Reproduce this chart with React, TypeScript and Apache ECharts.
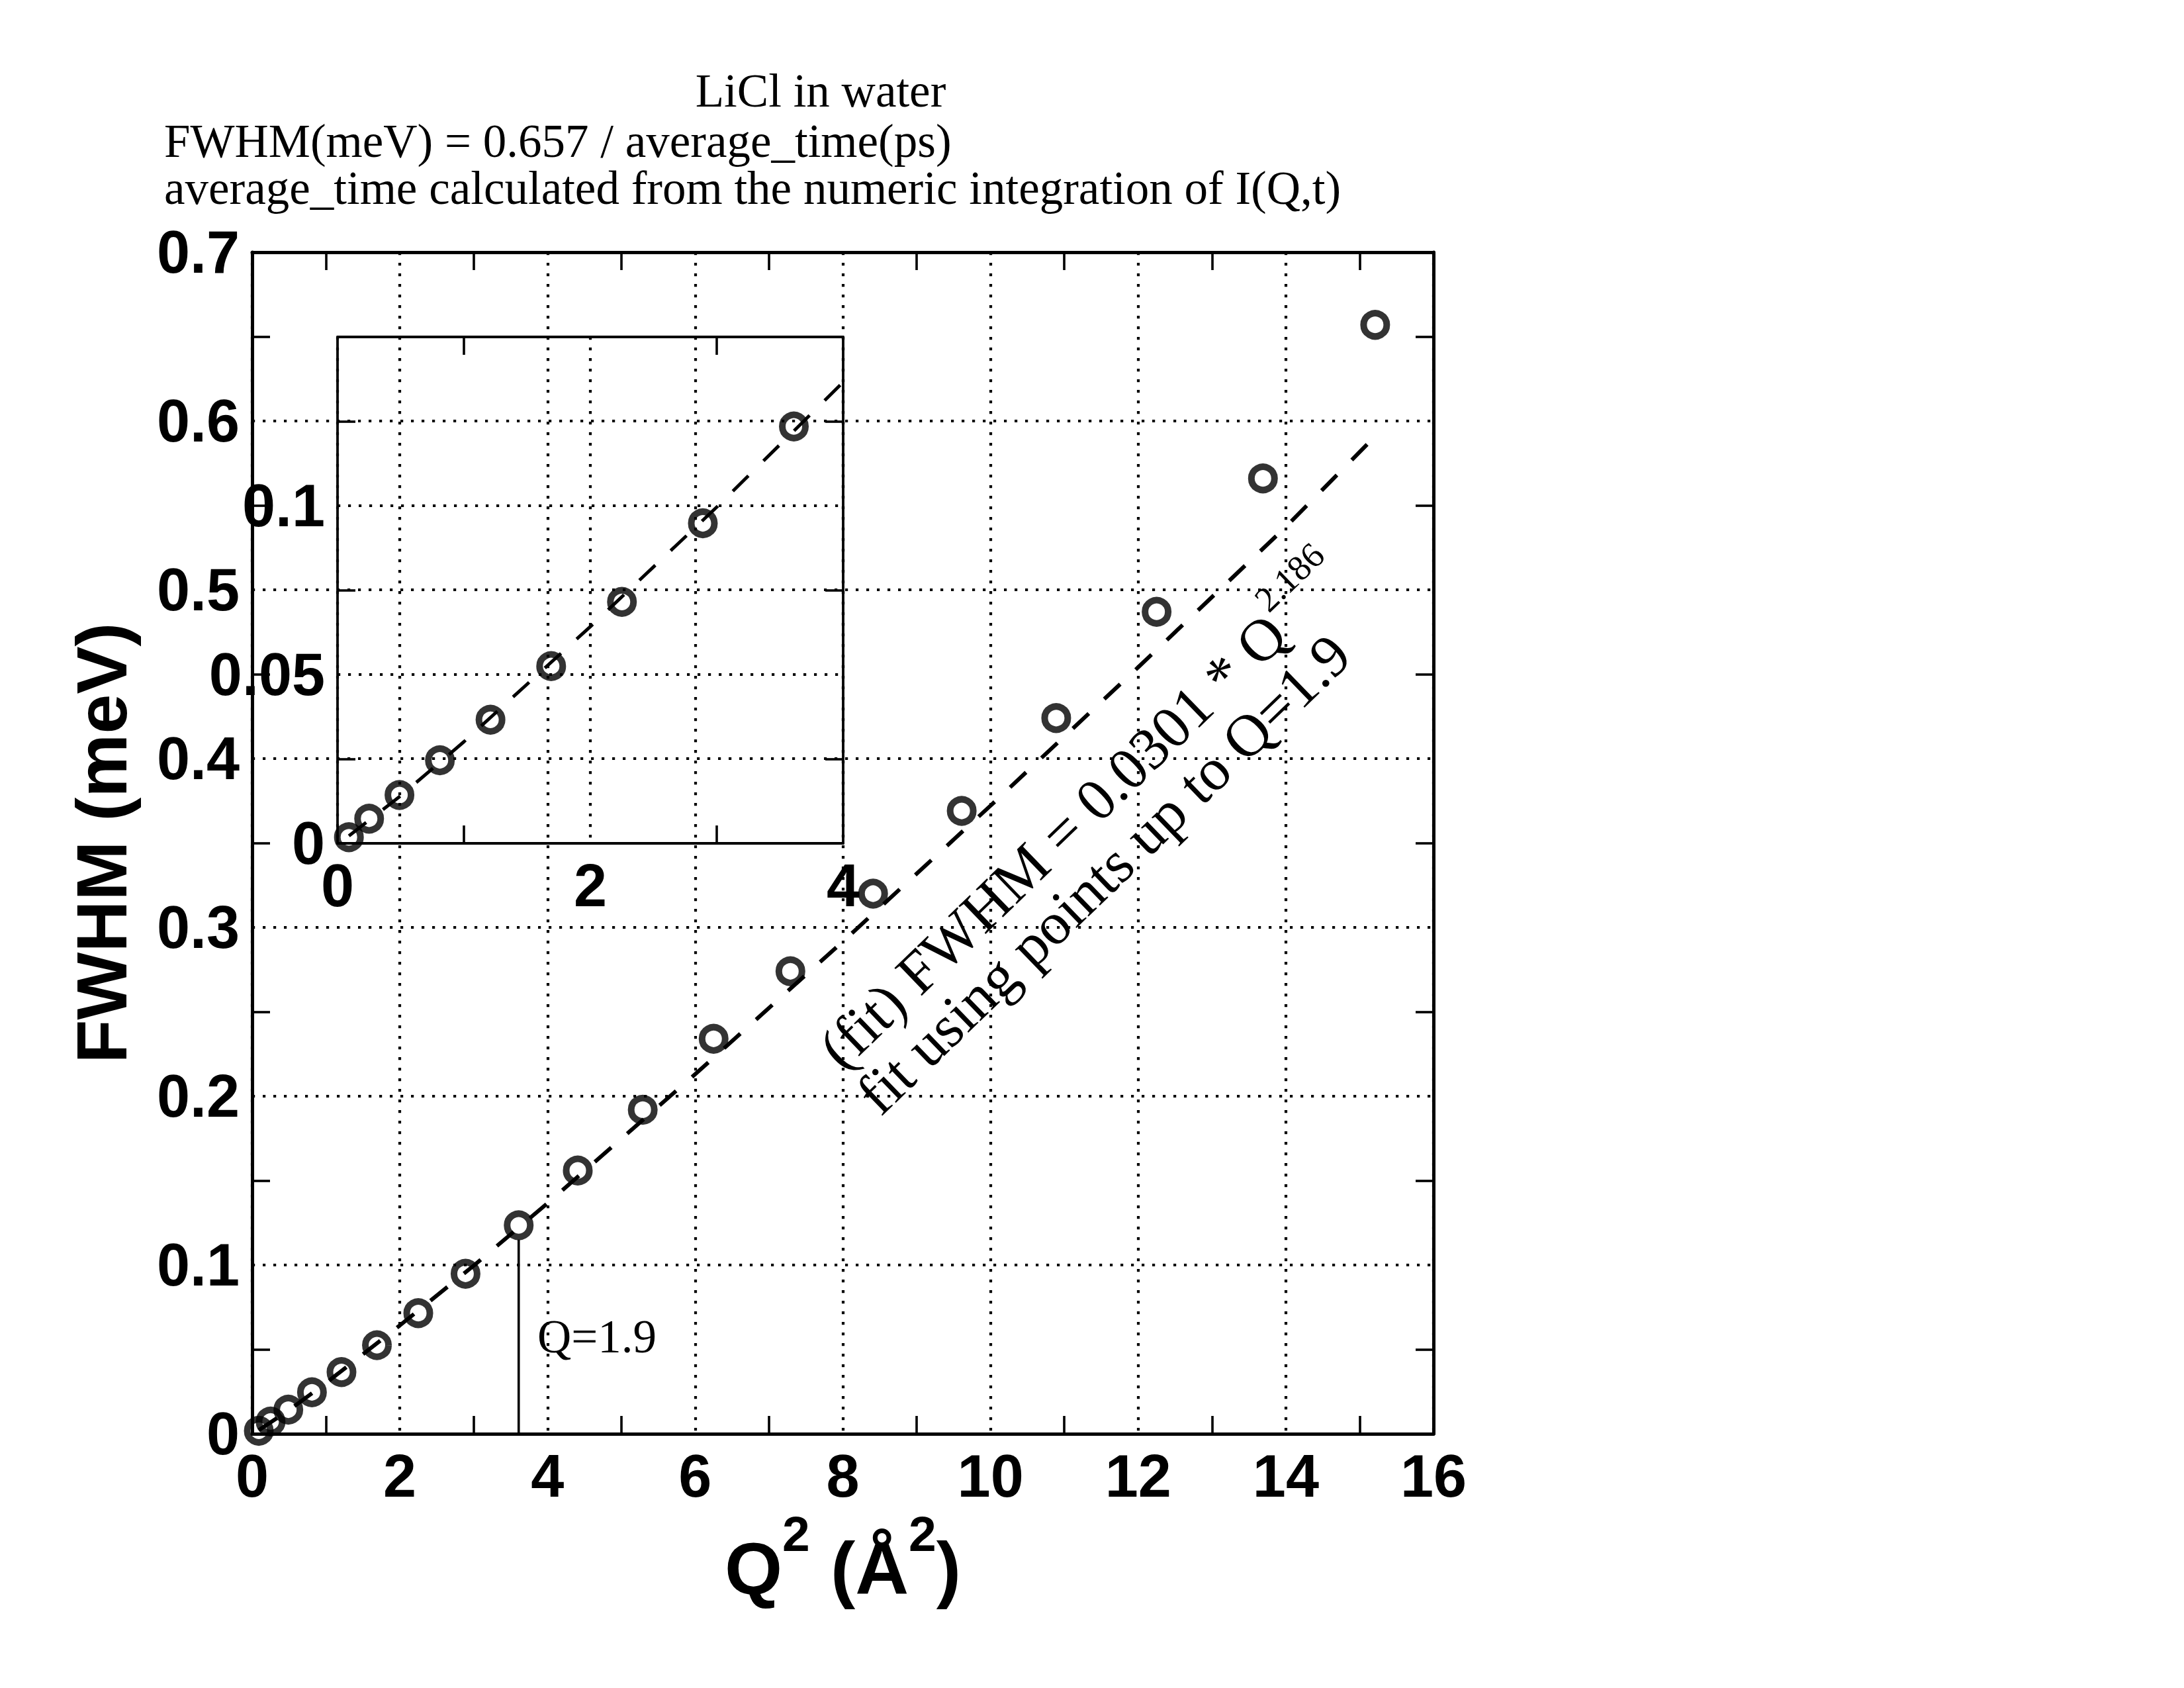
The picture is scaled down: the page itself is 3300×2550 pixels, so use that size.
import React, { useEffect, useRef } from "react";
import * as echarts from "echarts";

// ---------- data ----------
const q2Values = [0.09, 0.25, 0.49, 0.81, 1.21, 1.69, 2.25, 2.89, 3.61, 4.41, 5.29, 6.25, 7.29, 8.41, 9.61, 10.89, 12.25, 13.69, 15.21];
const fwhmValues = [0.0018, 0.0073, 0.0143, 0.0246, 0.0366, 0.0525, 0.0715, 0.0948, 0.1235, 0.156, 0.192, 0.234, 0.274, 0.32, 0.369, 0.424, 0.487, 0.566, 0.657];
const insetPointCount = 9;

const fitX = [0.09, 0.5, 1, 2, 3, 4, 6, 8, 10, 12, 14, 15.3];
const fitY = [0.0022, 0.0141, 0.0301, 0.0642, 0.0996, 0.1366, 0.213, 0.2916, 0.3721, 0.4541, 0.5373, 0.595];

const cutX = 3.61;
const cutTop = 0.115;

const mainXTicks = [0, 2, 4, 6, 8, 10, 12, 14, 16];
const mainYTicks = [0, 0.1, 0.2, 0.3, 0.4, 0.5, 0.6, 0.7];
const insetXTicks = [0, 2, 4];
const insetYTicks = [0, 0.05, 0.1, 0.15];

const titleLines = [
  "LiCl in water",
  "FWHM(meV) = 0.657 / average_time(ps)",
  "average_time calculated from the numeric integration of I(Q,t)",
];
const yAxisTitle = "FWHM (meV)";
const fitLine1 = "(fit) FWHM = 0.0301 * Q";
const fitExponent = "2.186";
const fitLine2 = "fit using points up to Q=1.9";
const cutLabel = "Q=1.9";

const SERIF = "'Liberation Serif', 'Times New Roman', serif";
const SANS = "'Liberation Sans', Arial, Helvetica, sans-serif";

function makeAxis(
  gridIndex: number,
  ticks: number[],
  position: string,
  showLabels: boolean,
  showGrid: boolean,
  frameWidth: number,
  extra: any = {}
) {
  return {
    type: "value",
    gridIndex,
    position,
    min: ticks[0],
    max: ticks[ticks.length - 1],
    interval: ticks[1] - ticks[0],
    axisLine: { show: true, onZero: false, lineStyle: { color: "#000", width: frameWidth } },
    axisTick: { show: false, inside: true },
    minorTick: { show: true, splitNumber: 2, length: 27, lineStyle: { color: "#000", width: 3.6 } },
    minorSplitLine: { show: false },
    axisLabel: {
      show: showLabels,
      fontSize: 90,
      fontWeight: "bold",
      fontFamily: SANS,
      color: "#000",
      margin: 19,
      lineHeight: 90,
    },
    splitLine: {
      show: showGrid,
      lineStyle: { color: "#000", width: 4.2, type: [4.2, 11.8] },
    },
    ...extra,
  };
}

const txt = (x: number, y: number, text: string, font: string, align: string, vAlign: string, extra: any = {}) => ({
  type: "text",
  style: {
    x, y, text, font, fill: "#000",
    textAlign: align, textVerticalAlign: vAlign, align, verticalAlign: vAlign,
    ...extra,
  },
});

export default function App() {
  const ref = useRef<HTMLDivElement>(null);

  useEffect(() => {
    if (!ref.current) return;
    const chart = echarts.init(ref.current, null, { renderer: "svg" });

    const fitFont = 90;
    const ctx = document.createElement("canvas").getContext("2d")!;
    ctx.font = `${fitFont}px ${SERIF}`;
    const line1Width = ctx.measureText(fitLine1).width;

    const mainPoints = q2Values.map((x, i) => [x, fwhmValues[i]]);
    const insetPoints = mainPoints.slice(0, insetPointCount);
    const fitPoints = fitX.map((x, i) => [x, fitY[i]]);
    const insetFit = fitPoints.filter((p) => p[0] <= insetXTicks[insetXTicks.length - 1]);

    const angle = (44 * Math.PI) / 180;
    const circleStyle = { color: "rgba(0,0,0,0)", borderColor: "#000", borderWidth: 10 };

    const option: any = {
      animation: false,
      backgroundColor: "#fff",
      grid: [
        { left: 381, top: 381, width: 1785, height: 1785, containLabel: false },
        { left: 510, top: 509, width: 764, height: 765, containLabel: false },
      ],
      xAxis: [
        makeAxis(0, mainXTicks, "bottom", true, true, 5, {
          name: "{b|Q}{s|2}{b| (Å}{s|2}{b|)}",
          nameLocation: "middle",
          nameGap: 113,
          nameTextStyle: {
            color: "#000",
            fontSize: 112,
            fontWeight: "bold",
            fontFamily: SANS,
            rich: {
              b: { fontSize: 112, fontWeight: "bold", fontFamily: SANS, lineHeight: 146, verticalAlign: "bottom", color: "#000" },
              s: { fontSize: 75, fontWeight: "bold", fontFamily: SANS, lineHeight: 146, verticalAlign: "top", color: "#000" },
            },
          },
        }),
        makeAxis(0, mainXTicks, "top", false, false, 5),
        makeAxis(1, insetXTicks, "bottom", true, true, 3.8),
        makeAxis(1, insetXTicks, "top", false, false, 3.8),
      ],
      yAxis: [
        makeAxis(0, mainYTicks, "left", true, true, 5, {
          name: yAxisTitle,
          nameLocation: "middle",
          nameRotate: 90,
          nameGap: 174,
          nameTextStyle: {
            color: "#000",
            fontSize: 108,
            fontWeight: "bold",
            fontFamily: SANS,
            lineHeight: 108,
          },
        }),
        makeAxis(0, mainYTicks, "right", false, false, 5),
        (() => {
          const a: any = makeAxis(1, insetYTicks, "left", true, true, 3.8);
          a.axisLabel.showMaxLabel = false;
          return a;
        })(),
        makeAxis(1, insetYTicks, "right", false, false, 3.8),
      ],
      series: [
        {
          type: "line",
          xAxisIndex: 0,
          yAxisIndex: 0,
          data: fitPoints,
          symbol: "none",
          silent: true,
          z: 2,
          lineStyle: { color: "#000", width: 6, type: [33, 32] },
        },
        {
          type: "line",
          xAxisIndex: 0,
          yAxisIndex: 0,
          data: [
            [cutX, 0],
            [cutX, cutTop],
          ],
          symbol: "none",
          silent: true,
          z: 2,
          lineStyle: { color: "#000", width: 3.6, type: "solid" },
        },
        {
          type: "scatter",
          xAxisIndex: 0,
          yAxisIndex: 0,
          data: mainPoints,
          symbol: "circle",
          symbolSize: 35,
          silent: true,
          z: 3,
          itemStyle: circleStyle,
        },
        {
          type: "line",
          xAxisIndex: 2,
          yAxisIndex: 2,
          data: insetFit,
          symbol: "none",
          silent: true,
          z: 2,
          lineStyle: { color: "#000", width: 5, type: [33, 32] },
        },
        {
          type: "scatter",
          xAxisIndex: 2,
          yAxisIndex: 2,
          data: insetPoints,
          symbol: "circle",
          symbolSize: 35,
          silent: true,
          z: 3,
          itemStyle: circleStyle,
        },
      ],
      graphic: [
        txt(1240, 137, titleLines[0], `71px ${SERIF}`, "center", "middle"),
        txt(248, 177.5, titleLines[1] + "\n" + titleLines[2], `71px ${SERIF}`, "left", "top", { lineHeight: 71 }),
        txt(812, 2019, cutLabel, `71px ${SERIF}`, "left", "middle"),
        {
          type: "group",
          x: 1232,
          y: 1602,
          rotation: angle,
          children: [
            txt(18, 11, fitLine1, `${fitFont}px ${SERIF}`, "left", "middle"),
            txt(18 + line1Width + 3, -27, fitExponent, `54px ${SERIF}`, "left", "middle"),
            txt(11, 100, fitLine2, `${fitFont}px ${SERIF}`, "left", "middle"),
          ],
        },
      ],
    };

    chart.setOption(option);
    return () => chart.dispose();
  }, []);

  return (
    <div
      ref={ref}
      style={{ position: "fixed", left: 0, top: 0, width: 3300, height: 2550, background: "#fff" }}
    />
  );
}
